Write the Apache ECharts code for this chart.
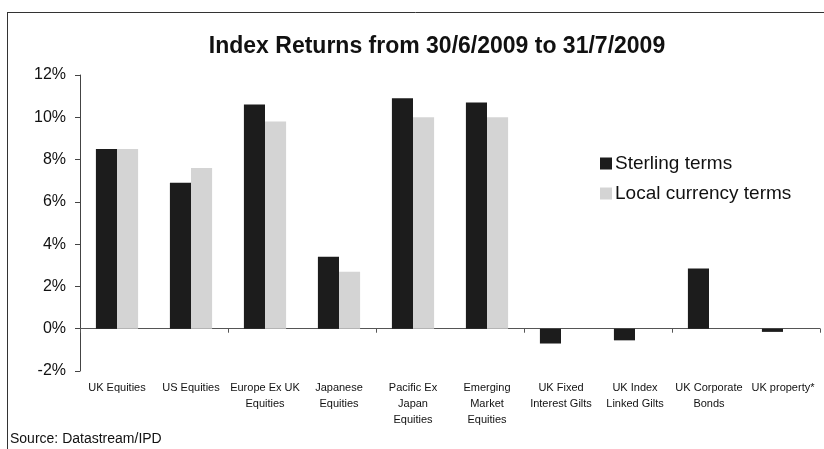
<!DOCTYPE html>
<html><head><meta charset="utf-8">
<script src="https://cdn.jsdelivr.net/npm/echarts@6/dist/echarts.min.js"></script>
<style>html,body{margin:0;padding:0;background:#fff}#c{width:824px;height:449px}</style>
</head><body><div id="c"></div>
<script>
var categories = ["UK Equities","US Equities","Europe Ex UK\nEquities","Japanese\nEquities","Pacific Ex\nJapan\nEquities","Emerging\nMarket\nEquities","UK Fixed\nInterest Gilts","UK Index\nLinked Gilts","UK Corporate\nBonds","UK property*"];
var sterling = [8.5, 6.9, 10.6, 3.4, 10.9, 10.7, -0.7, -0.55, 2.85, -0.15];
var localCurrency = [8.5, 7.6, 9.8, 2.7, 10.0, 10.0, null, null, null, null];
var yTicks = {min: -2, max: 12, interval: 2};

var chart = echarts.init(document.getElementById('c'));
chart.setOption({
  animation: false,
  backgroundColor: '#fff',
  title: {
    text: 'Index Returns from 30/6/2009 to 31/7/2009',
    left: 432, top: 30, textAlign: 'center',
    textStyle: {fontFamily: 'Liberation Sans', fontWeight: 'bold', fontSize: 23, color: '#111'}
  },
  legend: {
    orient: 'vertical', left: 595, top: 149, itemGap: 11,
    itemWidth: 12, itemHeight: 12, icon: 'rect',
    textStyle: {fontFamily: 'Liberation Sans', fontSize: 19, color: '#111', padding: [0, 0, 0, -2]},
    data: ['Sterling terms', 'Local currency terms']
  },
  grid: {left: 80, right: 4, top: 75, bottom: 78},
  xAxis: [{
    type: 'category', data: categories, position: 'bottom',
    axisLine: {show: false, onZero: false}, axisTick: {show: false},
    axisLabel: {interval: 0, fontFamily: 'Liberation Sans', fontSize: 11, color: '#111', lineHeight: 16, margin: 9, verticalAlign: 'top'}
  }, {
    type: 'category', data: categories, position: 'bottom',
    axisLine: {show: true, onZero: true, lineStyle: {color: '#555', width: 1}},
    axisTick: {show: true, length: 4, inside: false, lineStyle: {color: '#555'}},
    axisLabel: {show: false}
  }],
  yAxis: {
    type: 'value', min: yTicks.min, max: yTicks.max, interval: yTicks.interval,
    axisLine: {show: true, lineStyle: {color: '#444'}},
    axisTick: {show: true, length: 5, lineStyle: {color: '#444'}},
    splitLine: {show: false},
    axisLabel: {formatter: '{value}%', fontFamily: 'Liberation Sans', fontSize: 16, color: '#111', margin: 14}
  },
  series: [{
    name: 'Sterling terms', type: 'bar', data: sterling, xAxisIndex: 0,
    barGap: '0%', barCategoryGap: '43%',
    itemStyle: {color: '#1c1c1c'}
  }, {
    name: 'Local currency terms', type: 'bar', data: localCurrency, xAxisIndex: 0,
    barGap: '0%', barCategoryGap: '43%',
    itemStyle: {color: '#d4d4d4'}
  }],
  graphic: [
    {type: 'line', shape: {x1: 7.5, y1: 12, x2: 7.5, y2: 449}, style: {stroke: '#333', lineWidth: 1}},
    {type: 'line', shape: {x1: 7, y1: 12.5, x2: 824, y2: 12.5}, style: {stroke: '#333', lineWidth: 1}},
    {type: 'text', left: 10, top: 432, style: {text: 'Source: Datastream/IPD', font: '14px "Liberation Sans"', fill: '#111'}}
  ]
});
</script></body></html>
